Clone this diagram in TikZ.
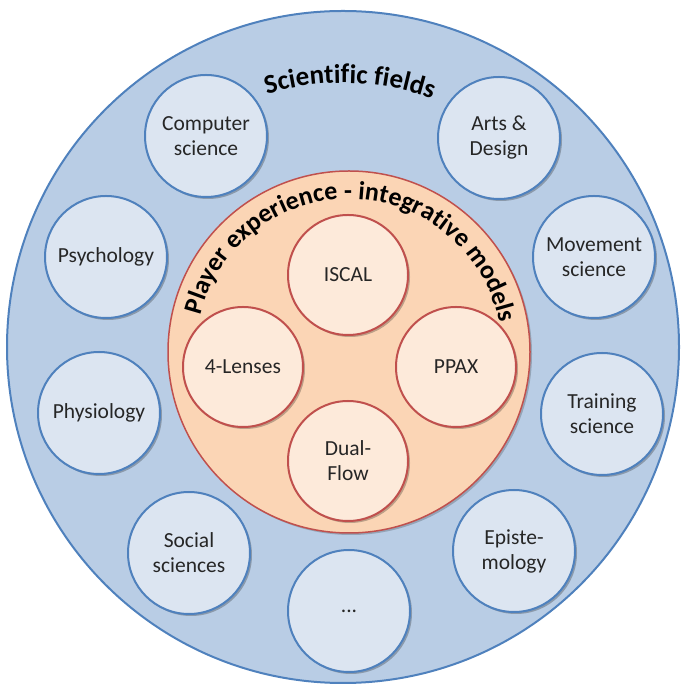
\documentclass[tikz,border=0pt]{standalone}
\usepackage{fontspec}
\setmainfont{Carlito}
\usetikzlibrary{decorations}
\usetikzlibrary{decorations.text}
\usetikzlibrary{shadows}

\definecolor{fieldbg}{RGB}{185,205,229}
\definecolor{fieldline}{RGB}{79,129,189}
\definecolor{fieldfill}{RGB}{220,229,241}
\definecolor{modelbg}{RGB}{251,213,181}
\definecolor{modelline}{RGB}{192,80,77}
\definecolor{modelfill}{RGB}{253,234,218}

\tikzset{
    field/.style={circle, draw=fieldline, line width=2pt, fill=fieldfill,
        minimum size=122pt, inner sep=0pt, align=center, text=black!85,
        font=\fontsize{21.5}{25}\selectfont,
        drop shadow={shadow xshift=2pt, shadow yshift=-2pt, opacity=0.25, fill=black}},
    model/.style={field, draw=modelline, fill=modelfill, minimum size=120pt}
}

\begin{document}
\begin{tikzpicture}[x=1pt, y=1pt]
                \useasboundingbox (0,0) rectangle (680,687);
                \filldraw[fill=fieldbg, draw=fieldline, line width=2pt] (343,340) circle[radius=336pt];
                \path[decorate, decoration={text along path, text align=center,
                    text={|\bfseries\fontsize{27}{27}\selectfont|Scientific fields}}]
                    (343,340) ++(113.5:264pt) arc[start angle=113.5, end angle=63.5, radius=264pt];
                \node[field] (cs) at (206,551) {Computer\\science};
                \node[field] (arts) at (499,549) {Arts \&\\Design};
                \node[field] (psy) at (106,430) {Psychology};
                \node[field] (mov) at (594,430) {Movement\\science};
                \node[field] (phys) at (99,274) {Physiology};
                \node[field] (train) at (602,273) {Training\\science};
                \node[field] (soc) at (189,134) {Social\\sciences};
                \node[field] (epi) at (514,136) {Episte-\\mology};
                \node[field] (more) at (349,76) {...};
                \filldraw[fill=modelbg, draw=modelline, line width=1.5pt,
                    drop shadow={shadow xshift=2pt, shadow yshift=-2pt, opacity=0.2, fill=black}]
                    (349,335) circle[radius=181pt];
                \path[decorate, decoration={text along path, text align=center,
                    text={|\bfseries\fontsize{26}{26}\selectfont|Player experience - integrative models}}]
                    (349,335) ++(176:153pt) arc[start angle=176, end angle=1, radius=153pt];
                \node[model] (iscal) at (348,412) {ISCAL};
                \node[model] (lenses) at (243,320) {4-Lenses};
                \node[model] (ppax) at (456,320) {PPAX};
                \node[model] (dual) at (348,226) {Dual-\\Flow};
            \end{tikzpicture}
\end{document}
